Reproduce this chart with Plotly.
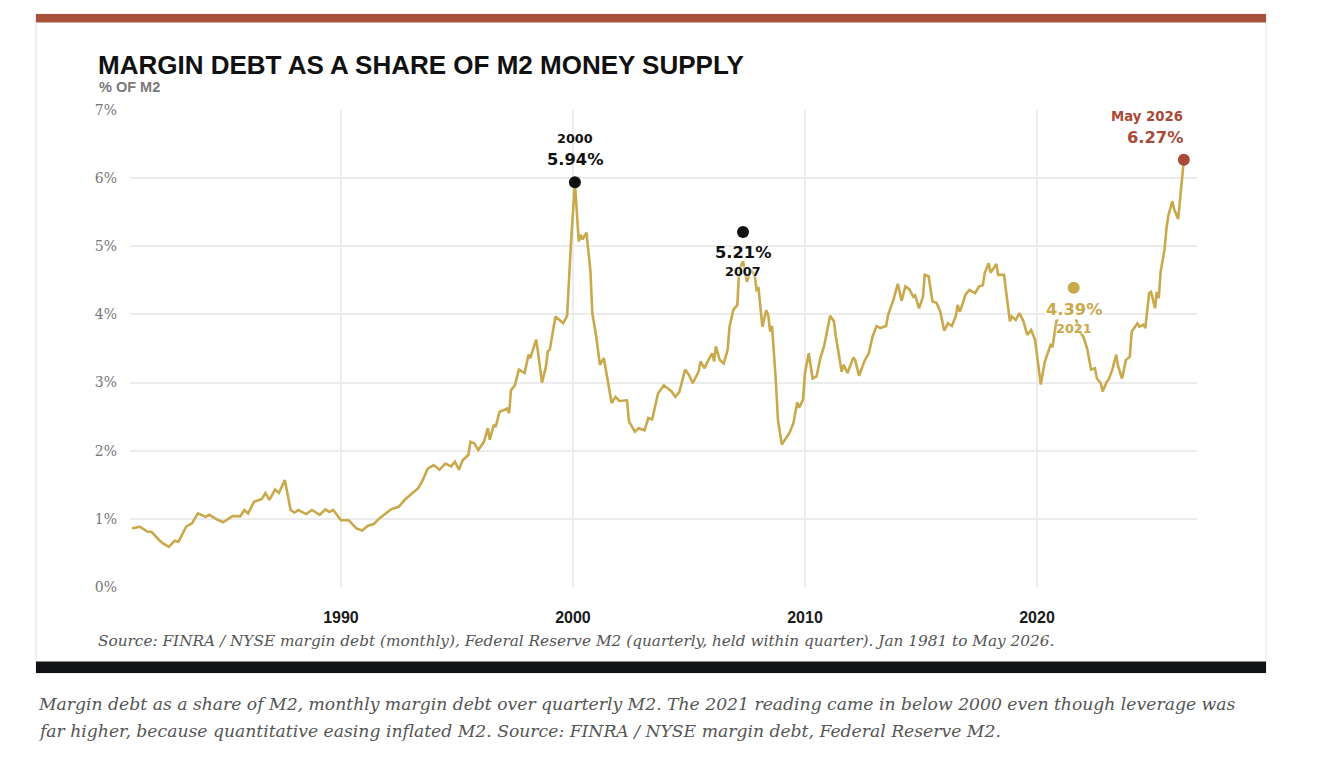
import plotly.graph_objects as go

# ---------------- data ----------------
months = [
    "1981-01", "1981-05", "1981-09", "1981-11", "1982-03", "1982-05", "1982-08", "1982-11",
    "1983-01", "1983-05", "1983-08", "1983-11", "1984-03", "1984-05", "1984-09", "1984-12",
    "1985-05", "1985-09", "1985-11", "1986-01", "1986-04", "1986-08", "1986-10", "1986-12",
    "1987-03", "1987-05", "1987-08", "1987-11", "1988-01", "1988-03", "1988-07", "1988-10",
    "1989-02", "1989-05", "1989-07", "1989-09", "1990-01", "1990-05", "1990-09", "1990-12",
    "1991-03", "1991-06", "1991-09", "1991-12", "1992-03", "1992-07", "1992-10", "1993-02",
    "1993-05", "1993-07", "1993-10", "1994-01", "1994-04", "1994-07", "1994-10", "1994-12",
    "1995-02", "1995-04", "1995-07", "1995-08", "1995-10", "1995-12", "1996-03", "1996-05",
    "1996-06", "1996-08", "1996-09", "1996-11", "1997-03", "1997-04", "1997-05", "1997-07",
    "1997-09", "1997-12", "1998-02", "1998-03", "1998-06", "1998-07", "1998-09", "1998-11",
    "1998-12", "1999-01", "1999-04", "1999-08", "1999-10", "1999-12", "2000-02", "2000-04",
    "2000-05", "2000-06", "2000-08", "2000-10", "2000-11", "2001-01", "2001-03", "2001-05",
    "2001-07", "2001-09", "2001-11", "2002-01", "2002-05", "2002-06", "2002-09", "2002-11",
    "2003-02", "2003-04", "2003-06", "2003-09", "2003-12", "2004-04", "2004-06", "2004-08",
    "2004-11", "2005-01", "2005-03", "2005-06", "2005-07", "2005-09", "2005-11", "2006-01",
    "2006-02", "2006-03", "2006-05", "2006-07", "2006-09", "2006-10", "2006-12", "2007-02",
    "2007-03", "2007-05", "2007-07", "2007-09", "2007-11", "2007-12", "2008-01", "2008-03",
    "2008-05", "2008-06", "2008-07", "2008-08", "2008-10", "2008-11", "2009-01", "2009-03",
    "2009-05", "2009-07", "2009-09", "2009-10", "2009-12", "2010-01", "2010-03", "2010-05",
    "2010-07", "2010-09", "2010-11", "2011-02", "2011-04", "2011-05", "2011-08", "2011-09",
    "2011-11", "2012-02", "2012-03", "2012-05", "2012-08", "2012-10", "2012-12", "2013-02",
    "2013-04", "2013-07", "2013-08", "2013-11", "2014-01", "2014-03", "2014-05", "2014-07",
    "2014-09", "2014-10", "2014-12", "2015-02", "2015-03", "2015-05", "2015-07", "2015-09",
    "2015-11", "2016-01", "2016-03", "2016-05", "2016-07", "2016-08", "2016-09", "2016-10",
    "2016-12", "2017-02", "2017-05", "2017-07", "2017-09", "2017-10", "2017-12", "2018-01",
    "2018-04", "2018-05", "2018-08", "2018-09", "2018-11", "2018-12", "2019-02", "2019-04",
    "2019-06", "2019-08", "2019-10", "2019-12", "2020-01", "2020-03", "2020-05", "2020-07",
    "2020-08", "2020-09", "2020-11", "2021-02", "2021-05", "2021-08", "2021-11", "2022-01",
    "2022-03", "2022-05", "2022-07", "2022-08", "2022-10", "2022-11", "2023-01", "2023-02",
    "2023-04", "2023-06", "2023-07", "2023-09", "2023-11", "2024-01", "2024-02", "2024-05",
    "2024-06", "2024-08", "2024-09", "2024-11", "2024-12", "2025-02", "2025-03", "2025-04",
    "2025-05", "2025-07", "2025-08", "2025-09", "2025-11", "2025-12", "2026-02", "2026-05",
]
share_pct = [
    0.86, 0.885, 0.81, 0.81, 0.69, 0.64, 0.59, 0.68,
    0.665, 0.885, 0.935, 1.08, 1.03, 1.06, 0.99, 0.95,
    1.04, 1.04, 1.13, 1.08, 1.25, 1.29, 1.38, 1.28,
    1.43, 1.38, 1.57, 1.13, 1.09, 1.13, 1.07, 1.13,
    1.06, 1.14, 1.10, 1.13, 0.98, 0.98, 0.86, 0.83,
    0.90, 0.925, 1.01, 1.08, 1.14, 1.18, 1.28, 1.38,
    1.45, 1.55, 1.74, 1.79, 1.72, 1.81, 1.77, 1.84,
    1.72, 1.86, 1.94, 2.13, 2.11, 2.01, 2.13, 2.33,
    2.16, 2.38, 2.35, 2.57, 2.62, 2.55, 2.89, 2.96,
    3.19, 3.14, 3.41, 3.36, 3.63, 3.44, 3.00, 3.23,
    3.46, 3.48, 3.97, 3.87, 3.98, 5.05, 5.94, 5.07,
    5.17, 5.10, 5.20, 4.65, 4.02, 3.68, 3.26, 3.36,
    3.06, 2.70, 2.79, 2.73, 2.74, 2.43, 2.28, 2.33,
    2.30, 2.48, 2.46, 2.84, 2.96, 2.87, 2.79, 2.86,
    3.19, 3.11, 2.99, 3.16, 3.31, 3.21, 3.33, 3.43,
    3.31, 3.53, 3.33, 3.28, 3.48, 3.82, 4.07, 4.14,
    4.65, 4.78, 4.48, 4.65, 4.58, 4.36, 4.38, 3.82,
    4.06, 3.99, 3.75, 3.83, 2.99, 2.45, 2.09, 2.18,
    2.26, 2.40, 2.71, 2.63, 2.75, 3.14, 3.43, 3.06,
    3.09, 3.36, 3.55, 3.98, 3.90, 3.68, 3.16, 3.26,
    3.14, 3.37, 3.33, 3.10, 3.33, 3.43, 3.68, 3.83,
    3.80, 3.83, 3.99, 4.24, 4.45, 4.20, 4.41, 4.37,
    4.26, 4.28, 4.09, 4.26, 4.58, 4.56, 4.19, 4.17,
    4.04, 3.76, 3.87, 3.83, 3.97, 4.14, 4.04, 4.11,
    4.29, 4.36, 4.31, 4.41, 4.43, 4.61, 4.75, 4.61,
    4.74, 4.58, 4.58, 4.34, 3.90, 3.97, 3.92, 4.02,
    3.90, 3.70, 3.77, 3.63, 3.38, 2.97, 3.30, 3.48,
    3.55, 3.52, 3.90, 4.05, 4.15, 4.05, 3.75, 3.67,
    3.50, 3.19, 3.21, 3.06, 2.99, 2.87, 3.01, 3.04,
    3.19, 3.41, 3.24, 3.06, 3.33, 3.38, 3.75, 3.87,
    3.82, 3.85, 3.80, 4.31, 4.33, 4.09, 4.33, 4.24,
    4.63, 4.95, 5.27, 5.46, 5.66, 5.54, 5.40, 6.27,
]

hl_dates = ["2000-02", "2007-05", "2021-08", "2026-05"]
hl_values = [5.94, 5.21, 4.39, 6.27]
hl_years = ["2000", "2007", "2021", "May 2026"]

y_ticks = [0, 1, 2, 3, 4, 5, 6, 7]
y_tick_labels = ["0%", "1%", "2%", "3%", "4%", "5%", "6%", "7%"]
x_ticks = ["1990-01-01", "2000-01-01", "2010-01-01", "2020-01-01"]
x_tick_labels = ["1990", "2000", "2010", "2020"]

# ---------------- styling ----------------
GOLD = "#C9A94B"
RED = "#A94A38"
INK = "#111111"
W, H = 1332, 764
L, R, T, B = 130, 135, 110, 177
PW, PH = W - L - R, H - T - B


def fx(px):
    return (px - L) / PW


def fy(py):
    return (H - B - py) / PH


SANS = "Liberation Sans, Arial, sans-serif"
VERD = "DejaVu Sans, Verdana, sans-serif"
SERIF = "DejaVu Serif, Georgia, serif"
HALO = "0px 0px 3px white, 0px 0px 3px white"

fig = go.Figure()
fig.add_trace(go.Scatter(
    x=months, y=share_pct, mode="lines",
    line=dict(color=GOLD, width=2.6),
    hoverinfo="skip", showlegend=False,
))
fig.add_trace(go.Scatter(
    x=hl_dates, y=hl_values, mode="markers",
    marker=dict(size=12, color=[INK, INK, GOLD, RED]),
    hoverinfo="skip", showlegend=False,
))

VAL_SIZE = 16.3
YEAR_SIZE = 12.8
ann = [
    dict(x=hl_dates[0], y=hl_values[0], text=f"<b>{hl_values[0]:.2f}%</b>", yshift=23,
         font=dict(family=VERD, size=VAL_SIZE, color=INK, shadow=HALO)),
    dict(x=hl_dates[0], y=hl_values[0], text=f"<b>{hl_years[0]}</b>", yshift=44,
         font=dict(family=VERD, size=YEAR_SIZE, color=INK, shadow=HALO)),
    dict(x=hl_dates[1], y=hl_values[1], text=f"<b>{hl_values[1]:.2f}%</b>", yshift=-21,
         font=dict(family=VERD, size=VAL_SIZE, color=INK, shadow=HALO)),
    dict(x=hl_dates[1], y=hl_values[1], text=f"<b>{hl_years[1]}</b>", yshift=-40,
         font=dict(family=VERD, size=YEAR_SIZE, color=INK, shadow=HALO)),
    dict(x=hl_dates[2], y=hl_values[2], text=f"<b>{hl_values[2]:.2f}%</b>", yshift=-22,
         bgcolor="rgba(255,255,255,0.9)", borderpad=0,
         font=dict(family=VERD, size=VAL_SIZE, color=GOLD, shadow=HALO)),
    dict(x=hl_dates[2], y=hl_values[2], text=f"<b>{hl_years[2]}</b>", yshift=-41,
         font=dict(family=VERD, size=YEAR_SIZE, color=GOLD, shadow=HALO)),
    dict(x=hl_dates[3], y=hl_values[3], text=f"<b>{hl_values[3]:.2f}%</b>", yshift=22,
         xanchor="right", xshift=1,
         font=dict(family=VERD, size=VAL_SIZE, color=RED, shadow=HALO)),
    dict(x=hl_dates[3], y=hl_values[3], text=f"<b>{hl_years[3]}</b>", yshift=43,
         xanchor="right", xshift=1,
         font=dict(family=VERD, size=13.3, color=RED, shadow=HALO)),
]
for a in ann:
    a.update(xref="x", yref="y", showarrow=False)

page_text = [
    dict(x=fx(96), y=fy(64.5), text="<b>MARGIN DEBT AS A SHARE OF M2 MONEY SUPPLY</b>",
         font=dict(family=SANS, size=26, color=INK)),
    dict(x=fx(97), y=fy(87), text="<b>% OF M2</b>",
         font=dict(family=SANS, size=14.5, color="#7a7a7a")),
    dict(x=fx(96), y=fy(641),
         text="<i>Source: FINRA / NYSE margin debt (monthly), Federal Reserve M2 (quarterly, held within quarter). Jan 1981 to May 2026.</i>",
         font=dict(family=SERIF, size=15.3, color="#555555")),
    dict(x=fx(36), y=fy(704),
         text="<i>Margin debt as a share of M2, monthly margin debt over quarterly M2. The 2021 reading came in below 2000 even though leverage was</i>",
         font=dict(family=SERIF, size=17.2, color="#555555")),
    dict(x=fx(36), y=fy(731),
         text="<i>far higher, because quantitative easing inflated M2. Source: FINRA / NYSE margin debt, Federal Reserve M2.</i>",
         font=dict(family=SERIF, size=17.2, color="#555555")),
]
for a in page_text:
    a.update(xref="paper", yref="paper", xanchor="left", yanchor="middle", showarrow=False)
ann += page_text

shapes = [
    dict(type="rect", xref="paper", yref="paper", x0=fx(36), x1=fx(1266), y0=fy(14), y1=fy(673),
         line=dict(color="#e2e2e2", width=1), fillcolor="rgba(0,0,0,0)", layer="below"),
    dict(type="rect", xref="paper", yref="paper", x0=fx(36), x1=fx(1266), y0=fy(14), y1=fy(22.5),
         line=dict(width=0), fillcolor="#A9503B", layer="above"),
    dict(type="rect", xref="paper", yref="paper", x0=fx(36), x1=fx(1266), y0=fy(661.5), y1=fy(673),
         line=dict(width=0), fillcolor="#121316", layer="above"),
]

fig.update_layout(
    width=W, height=H,
    margin=dict(l=L, r=R, t=T, b=B),
    paper_bgcolor="white", plot_bgcolor="white",
    showlegend=False,
    annotations=ann,
    shapes=shapes,
    xaxis=dict(
        type="date", range=["1980-11-28", "2026-11-24"],
        tickvals=x_ticks, ticktext=x_tick_labels,
        showgrid=True, gridcolor="#ececec", gridwidth=1.5,
        zeroline=False, showline=False, ticks="",
        ticklabelstandoff=19,
        tickfont=dict(family="Liberation Sans Narrow, Arial Narrow, Liberation Sans, sans-serif",
                      size=16, color="#1a1a1a", weight="bold"),
    ),
    yaxis=dict(
        range=[0, 7], tickvals=y_ticks, ticktext=y_tick_labels,
        showgrid=True, gridcolor="#ececec", gridwidth=1.5,
        zeroline=False, showline=False, ticks="",
        ticklabelstandoff=12,
        tickfont=dict(family=SERIF, size=14, color="#777777"),
    ),
)

fig.write_html("out.html")
